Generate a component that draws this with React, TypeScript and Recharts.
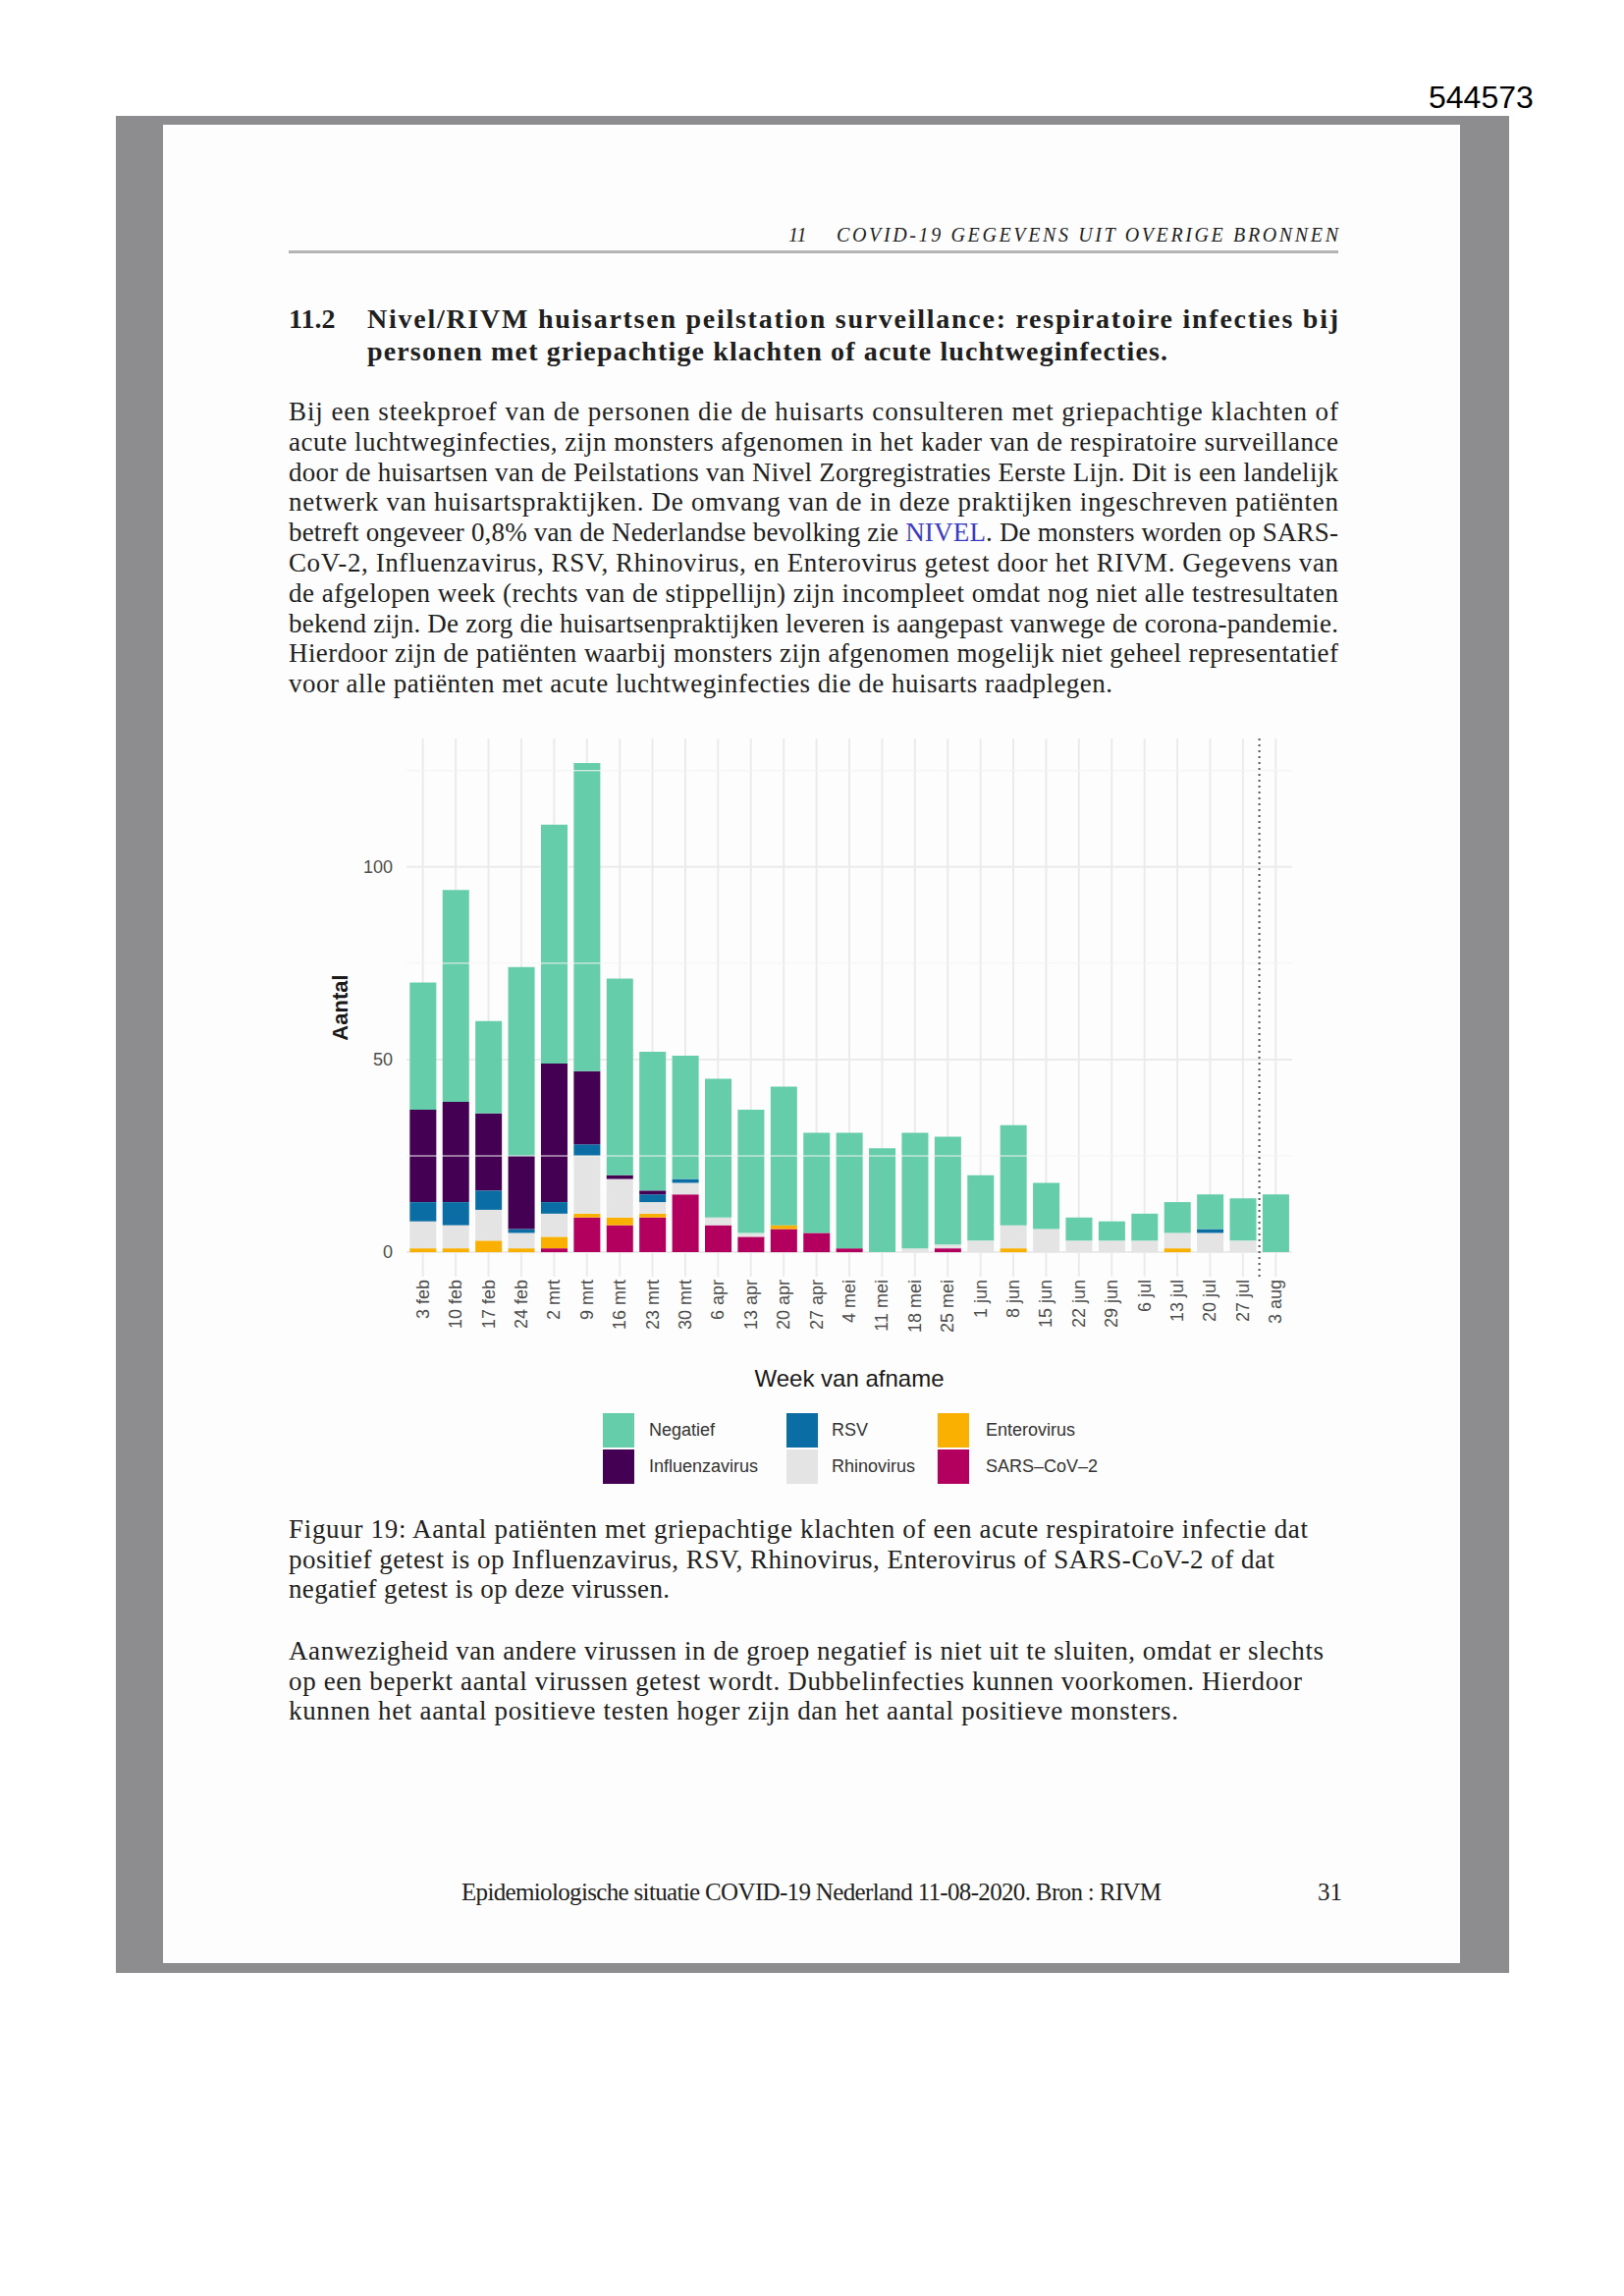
import React from "react";
import { BarChart, Bar, XAxis, YAxis, CartesianGrid, ReferenceLine } from "recharts";

// weken van afname (x-as)
const weeks = [
  "3 feb", "10 feb", "17 feb", "24 feb", "2 mrt", "9 mrt", "16 mrt", "23 mrt", "30 mrt",
  "6 apr", "13 apr", "20 apr", "27 apr", "4 mei", "11 mei", "18 mei", "25 mei",
  "1 jun", "8 jun", "15 jun", "22 jun", "29 jun", "6 jul", "13 jul", "20 jul", "27 jul", "3 aug",
];

// aantallen per uitslag
const negatief = [33, 55, 24, 49, 62, 80, 51, 36, 32, 36, 32, 36, 26, 30, 27, 30, 28, 17, 26, 12, 6, 5, 7, 8, 9, 11, 15];
const influenza = [24, 26, 20, 19, 36, 19, 1, 1, 0, 0, 0, 0, 0, 0, 0, 0, 0, 0, 0, 0, 0, 0, 0, 0, 0, 0, 0];
const rsv = [5, 6, 5, 1, 3, 3, 0, 2, 1, 0, 0, 0, 0, 0, 0, 0, 0, 0, 0, 0, 0, 0, 0, 0, 1, 0, 0];
const rhino = [7, 6, 8, 4, 6, 15, 10, 3, 3, 2, 1, 0, 0, 0, 0, 1, 1, 3, 6, 6, 3, 3, 3, 4, 5, 3, 0];
const entero = [1, 1, 3, 1, 3, 1, 2, 1, 0, 0, 0, 1, 0, 0, 0, 0, 0, 0, 1, 0, 0, 0, 0, 1, 0, 0, 0];
const sars = [0, 0, 0, 0, 1, 9, 7, 9, 15, 7, 4, 6, 5, 1, 0, 0, 1, 0, 0, 0, 0, 0, 0, 0, 0, 0, 0];

const yTicks = [0, 50, 100];
const yMinor = [25, 75, 125];

// stapelvolgorde: eerste = onderaan
const series = [
  { key: "sars", label: "SARS\u2013CoV\u20132", color: "#B3005E", values: sars },
  { key: "entero", label: "Enterovirus", color: "#F9B000", values: entero },
  { key: "rhino", label: "Rhinovirus", color: "#E4E4E4", values: rhino },
  { key: "rsv", label: "RSV", color: "#0A6DA3", values: rsv },
  { key: "influenza", label: "Influenzavirus", color: "#440154", values: influenza },
  { key: "negatief", label: "Negatief", color: "#66CDAA", values: negatief },
];

const legendColumns = [
  ["negatief", "influenza"],
  ["rsv", "rhino"],
  ["entero", "sars"],
];

const rows = weeks.map((week, i) => {
  const row: Record<string, string | number> = { week };
  series.forEach((s) => (row[s.key] = s.values[i]));
  return row;
});

const paragraph = [
  "Bij een steekproef van de personen die de huisarts consulteren met griepachtige klachten of",
  "acute luchtweginfecties, zijn monsters afgenomen in het kader van de respiratoire surveillance",
  "door de huisartsen van de Peilstations van Nivel Zorgregistraties Eerste Lijn. Dit is een landelijk",
  "netwerk van huisartspraktijken. De omvang van de in deze praktijken ingeschreven patiënten",
  "betreft ongeveer 0,8% van de Nederlandse bevolking zie NIVEL. De monsters worden op SARS-",
  "CoV-2, Influenzavirus, RSV, Rhinovirus, en Enterovirus getest door het RIVM. Gegevens van",
  "de afgelopen week (rechts van de stippellijn) zijn incompleet omdat nog niet alle testresultaten",
  "bekend zijn. De zorg die huisartsenpraktijken leveren is aangepast vanwege de corona-pandemie.",
  "Hierdoor zijn de patiënten waarbij monsters zijn afgenomen mogelijk niet geheel representatief",
  "voor alle patiënten met acute luchtweginfecties die de huisarts raadplegen.",
];
const paragraphEnds = [1363, 1363, 1363, 1363, 1363, 1363, 1363, 1363, 1363, 1133];

const caption = [
  "Figuur 19: Aantal patiënten met griepachtige klachten of een acute respiratoire infectie dat",
  "positief getest is op Influenzavirus, RSV, Rhinovirus, Enterovirus of SARS-CoV-2 of dat",
  "negatief getest is op deze virussen.",
];
const captionEnds = [1332, 1298, 682];

const remark = [
  "Aanwezigheid van andere virussen in de groep negatief is niet uit te sluiten, omdat er slechts",
  "op een beperkt aantal virussen getest wordt. Dubbelinfecties kunnen voorkomen. Hierdoor",
  "kunnen het aantal positieve testen hoger zijn dan het aantal positieve monsters.",
];
const remarkEnds = [1348, 1326, 1200];

const serif = '"Liberation Serif", "DejaVu Serif", serif';
const sans = '"Liberation Sans", Arial, sans-serif';
const ink = "#1f1f1f";

function Line({ x, x2, y, size = 27, weight = 400, italic = false, children }: any) {
  return (
    <text
      x={x}
      y={y}
      textLength={x2 - x}
      lengthAdjust="spacing"
      fontFamily={serif}
      fontSize={size}
      fontWeight={weight}
      fontStyle={italic ? "italic" : "normal"}
      fill={ink}
    >
      {children}
    </text>
  );
}

function WeekTick({ x, y, payload }: any) {
  return (
    <text
      x={x}
      y={y}
      transform={`rotate(-90 ${x} ${y})`}
      textAnchor="end"
      dominantBaseline="central"
      fontSize={18}
      fill="#4d4d4d"
    >
      {payload.value}
    </text>
  );
}

function renderPara(line: string) {
  if (line.includes("NIVEL.")) {
    const [a, b] = line.split("NIVEL");
    return (
      <>
        {a}
        <tspan fill="#3a3ac4">NIVEL</tspan>
        {b}
      </>
    );
  }
  return line;
}

export default function App() {
  const byKey = Object.fromEntries(series.map((s) => [s.key, s]));
  return (
    <div style={{ position: "absolute", left: 0, top: 0, width: 1654, height: 2338, background: "#fff" }}>
      {/* grijze scanrand + pagina */}
      <div style={{ position: "absolute", left: 118, top: 118, width: 1419, height: 1891, background: "#8d8d8f" }} />
      <div style={{ position: "absolute", left: 166, top: 127, width: 1321, height: 1872, background: "#fdfdfd" }} />

      <svg width={1654} height={2338} style={{ position: "absolute", left: 0, top: 0 }}>
        <text x={1455} y={110} fontFamily={sans} fontSize={32} fill="#000">544573</text>

        {/* kopregel */}
        <text x={803} y={246} fontFamily={serif} fontSize={20} fontStyle="italic" fill={ink}>11</text>
        <Line x={852} x2={1363} y={246} size={20} italic>COVID-19 GEGEVENS UIT OVERIGE BRONNEN</Line>
        <rect x={294} y={255} width={1069} height={3} fill="#b4b4b4" />

        {/* sectietitel */}
        <text x={294} y={334} fontFamily={serif} fontSize={28} fontWeight={700} fill={ink}>11.2</text>
        <Line x={374} x2={1363} y={334} size={28} weight={700}>
          Nivel/RIVM huisartsen peilstation surveillance: respiratoire infecties bij
        </Line>
        <Line x={374} x2={1189} y={367} size={28} weight={700}>
          personen met griepachtige klachten of acute luchtweginfecties.
        </Line>

        {paragraph.map((line, i) => (
          <Line key={i} x={294} x2={paragraphEnds[i]} y={428 + i * 30.8}>
            {renderPara(line)}
          </Line>
        ))}

        {caption.map((line, i) => (
          <Line key={i} x={294} x2={captionEnds[i]} y={1566 + i * 30.5}>{line}</Line>
        ))}

        {remark.map((line, i) => (
          <Line key={i} x={294} x2={remarkEnds[i]} y={1690 + i * 30.5}>{line}</Line>
        ))}

        <Line x={470} x2={1183} y={1935} size={25}>
          Epidemiologische situatie COVID-19 Nederland 11-08-2020. Bron : RIVM
        </Line>
        <text x={1342} y={1935} fontFamily={serif} fontSize={25} fill={ink}>31</text>
      </svg>

      {/* grafiek */}
      <div style={{ position: "absolute", left: 300, top: 730, width: 1100, height: 700, fontFamily: sans }}>
        <BarChart
          width={1100}
          height={700}
          data={rows}
          margin={{ top: 22, right: 84, left: 54, bottom: 50 }}
          barCategoryGap="10%"
        >
          <CartesianGrid stroke="#ebebeb" strokeWidth={2} syncWithTicks />
          {yMinor.map((v) => (
            <ReferenceLine key={v} y={v} stroke="#f3f3f3" strokeWidth={1} />
          ))}
          <XAxis
            dataKey="week"
            interval={0}
            tickLine={false}
            axisLine={false}
            tickSize={0}
            tickMargin={3}
            height={80}
            tick={<WeekTick />}
            label={(p: any) => (
              <text
                x={p.viewBox.x + p.viewBox.width / 2}
                y={p.viewBox.y + 103}
                textAnchor="middle"
                dominantBaseline="central"
                fontSize={24}
                fill="#1a1a1a"
              >
                Week van afname
              </text>
            )}
          />
          <YAxis
            type="number"
            domain={[-6.35, 133.35]}
            allowDataOverflow
            ticks={yTicks}
            width={60}
            tickLine={false}
            axisLine={false}
            tickSize={0}
            tickMargin={14}
            tick={{ fontSize: 18, fill: "#4d4d4d" }}
            label={(p: any) => (
              <text
                x={p.viewBox.x - 8}
                y={p.viewBox.y + p.viewBox.height / 2}
                transform={`rotate(-90 ${p.viewBox.x - 8} ${p.viewBox.y + p.viewBox.height / 2})`}
                textAnchor="middle"
                dominantBaseline="central"
                fontSize={22}
                fontWeight={700}
                fill="#1a1a1a"
              >
                Aantal
              </text>
            )}
          />
          {series.map((s) => (
            <Bar key={s.key} dataKey={s.key} stackId="a" fill={s.color} isAnimationActive={false} />
          ))}
          <ReferenceLine x="3 aug" position="start" stroke="#555" strokeWidth={2} strokeDasharray="2 4" />
        </BarChart>
      </div>

      {/* legenda */}
      {legendColumns.map((col, c) =>
        col.map((key, r) => {
          const s = byKey[key];
          const sx = [614, 801, 955][c];
          const tx = [661, 847, 1004][c];
          const top = 1439 + r * 37;
          return (
            <React.Fragment key={key}>
              <div style={{ position: "absolute", left: sx, top, width: 32, height: 35, background: s.color }} />
              <div
                style={{
                  position: "absolute",
                  left: tx,
                  top,
                  height: 35,
                  lineHeight: "35px",
                  fontFamily: sans,
                  fontSize: 18,
                  color: "#333",
                  whiteSpace: "nowrap",
                }}
              >
                {s.label}
              </div>
            </React.Fragment>
          );
        })
      )}
    </div>
  );
}
